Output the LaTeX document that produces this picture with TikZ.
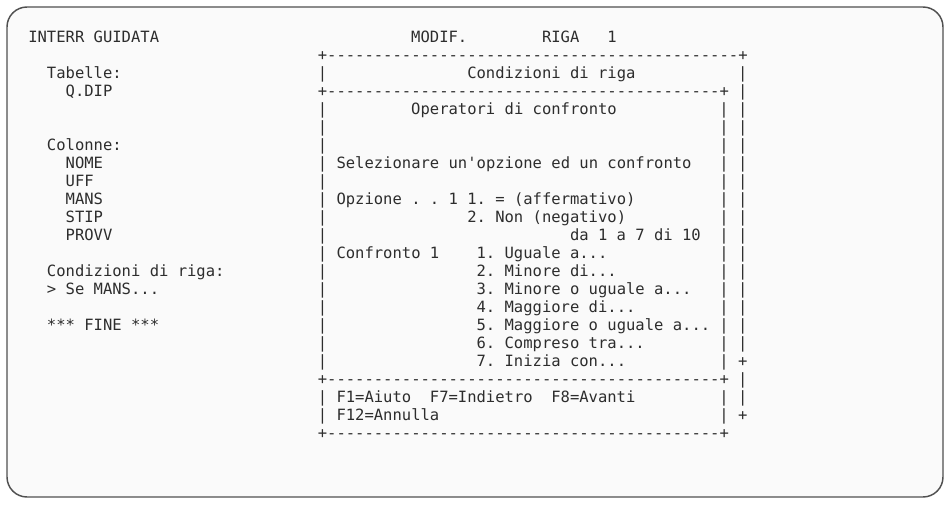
\documentclass[tikz,border=0pt]{standalone}
\usepackage{fontspec}
\setmonofont{DejaVu Sans Mono}
\definecolor{ink}{RGB}{45,45,45}
\definecolor{framec}{RGB}{80,80,80}
\definecolor{paper}{RGB}{250,250,250}
\ExplSyntaxOn
\cs_new:Npn \scrdashes #1 { \prg_replicate:nn {#1} {-} }
\ExplSyntaxOff
\tikzset{
  txt/.style={anchor=base west, inner sep=0pt, outer sep=0pt, text=ink,
    font=\ttfamily\fontsize{11.64pt}{14pt}\selectfont\frenchspacing},
  screenframe/.style={draw=framec, line width=1.1pt, rounded corners=15pt, fill=paper}
}
\newcommand\T[3]{\node[txt] (n#1x#2) at ({28.3+9.34*#1},{43+18*#2}) {#3};}
\begin{document}
\begin{tikzpicture}[x=0.75pt,y=-0.75pt]
\useasboundingbox (0,0) rectangle (951,505);
\draw[screenframe] (7,7) rectangle (943,497);
% header
\T{0}{0}{INTERR GUIDATA}
\T{41}{0}{MODIF.}
\T{55}{0}{RIGA}
\T{62}{0}{1}
% outer window
\T{31}{1}{+\scrdashes{44}+}
\T{31}{2}{|}\T{47}{2}{Condizioni di riga}\T{76}{2}{|}
\T{31}{3}{+\scrdashes{42}+}\T{76}{3}{|}
\foreach \r in {4,...,18}{\T{31}{\r}{|}\T{74}{\r}{|}}
\foreach \r in {4,...,17}{\T{76}{\r}{|}}
\T{76}{18}{+}
\T{31}{19}{+\scrdashes{42}+}\T{76}{19}{|}
\T{31}{20}{|}\T{74}{20}{|}\T{76}{20}{|}
\T{31}{21}{|}\T{74}{21}{|}\T{76}{21}{+}
\T{31}{22}{+\scrdashes{42}+}
% left panel
\T{2}{2}{Tabelle:}
\T{4}{3}{Q.DIP}
\T{2}{6}{Colonne:}
\T{4}{7}{NOME}
\T{4}{8}{UFF}
\T{4}{9}{MANS}
\T{4}{10}{STIP}
\T{4}{11}{PROVV}
\T{2}{13}{Condizioni di riga:}
\T{2}{14}{> Se MANS...}
\T{2}{16}{*** FINE ***}
% inner window
\T{41}{4}{Operatori di confronto}
\T{33}{7}{Selezionare un'opzione ed un confronto}
\T{33}{9}{Opzione . . 1 1. = (affermativo)}
\T{47}{10}{2. Non (negativo)}
\T{58}{11}{da 1 a 7 di 10}
\T{33}{12}{Confronto 1}
\T{48}{12}{1. Uguale a...}
\T{48}{13}{2. Minore di...}
\T{48}{14}{3. Minore o uguale a...}
\T{48}{15}{4. Maggiore di...}
\T{48}{16}{5. Maggiore o uguale a...}
\T{48}{17}{6. Compreso tra...}
\T{48}{18}{7. Inizia con...}
\T{33}{20}{F1=Aiuto}
\T{43}{20}{F7=Indietro}
\T{56}{20}{F8=Avanti}
\T{33}{21}{F12=Annulla}
\end{tikzpicture}
\end{document}
